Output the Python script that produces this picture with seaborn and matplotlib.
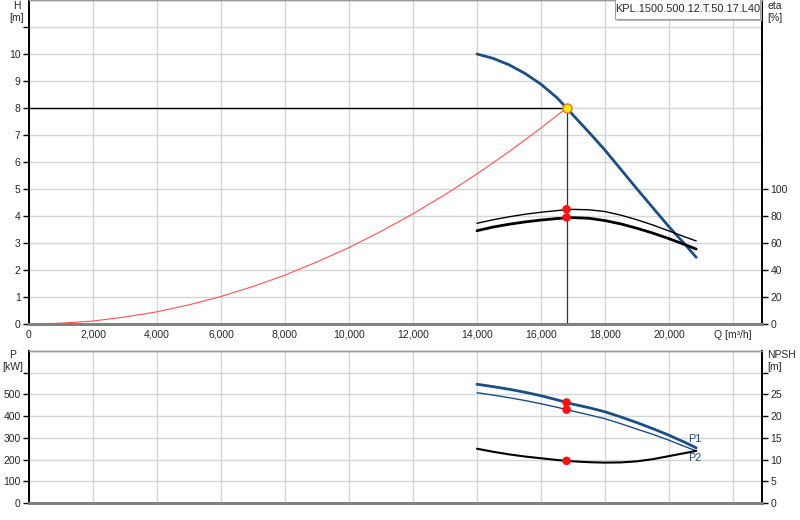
import pandas as pd
import matplotlib
matplotlib.use("Agg")
import matplotlib.pyplot as plt
from matplotlib.patches import Rectangle
import seaborn as sns

# values
q_pump = [14000, 14500, 15000, 15500, 16000, 16500, 16800, 17000, 17500,
          18000, 18500, 19000, 19500, 20000, 20500, 20850]
head = [10.0, 9.84, 9.6, 9.28, 8.88, 8.38, 8.0, 7.74, 7.1,
        6.44, 5.72, 5.0, 4.3, 3.6, 2.95, 2.47]
eta = [69.1, 71.8, 73.9, 75.6, 77.0, 78.1, 78.6, 78.8, 78.3,
       76.6, 74.1, 70.9, 67.3, 63.2, 58.8, 55.5]
eta_thin = [74.6, 77.2, 79.4, 81.3, 82.8, 84.0, 84.7, 84.9, 84.6,
            83.3, 80.6, 77.2, 73.3, 68.9, 64.5, 61.5]
p1 = [547, 536, 524, 510, 494, 475, 463, 455, 439,
      420, 396, 370, 342, 312, 279, 254]
p2 = [508, 497, 485, 472, 457, 441, 430, 423, 406,
      388, 365, 340, 316, 289, 260, 240]
npsh = [12.5, 11.8, 11.2, 10.7, 10.3, 9.9, 9.7, 9.6, 9.4,
        9.3, 9.35, 9.6, 10.1, 10.8, 11.5, 12.0]

q_sys = [0, 1000, 2000, 3000, 4000, 5000, 6000, 7000, 8000, 9000, 10000,
         11000, 12000, 13000, 14000, 15000, 16000, 16800]
h_sys = [0, 0.03, 0.11, 0.26, 0.45, 0.71, 1.02, 1.39, 1.81, 2.3, 2.83,
         3.43, 4.08, 4.79, 5.56, 6.38, 7.26, 8.0]

q_op = 16800
h_op = 8.0
eta_op = [85, 79]
p_op = [463, 430]
npsh_op = 9.7

x_ticks = list(range(0, 22001, 2000))
x_labels = ["0", "2,000", "4,000", "6,000", "8,000", "10,000", "12,000",
            "14,000", "16,000", "18,000", "20,000", "Q [m³/h]"]

model = "KPL.1500.500.12.T.50.17.L40"

blue = "#1a4e86"
grid_c = "#d4d6d8"

sns.set_style("white")
plt.rcParams['font.family'] = ['Liberation Sans', 'DejaVu Sans']
plt.rcParams['font.size'] = 7.5

pump = pd.DataFrame({"Q": q_pump, "H": head, "eta": eta, "eta2": eta_thin,
                     "P1": p1, "P2": p2, "NPSH": npsh})
system = pd.DataFrame({"Q": q_sys, "H": h_sys})

fig = plt.figure(figsize=(8, 5.2), dpi=100)
ax = fig.add_axes([29 / 800, 1 - 324 / 520, 733 / 800, 324 / 520])
ax2 = ax.twinx()
bx = fig.add_axes([29 / 800, 1 - 503 / 520, 733 / 800, 152 / 520])
bx2 = bx.twinx()

xmax = 733 / 32 * 1000

# top panel: head and efficiency
ax.set_xlim(0, xmax)
ax.set_ylim(0, 12)
ax2.set_ylim(0, 240)
ax.axhline(h_op, xmin=0, xmax=q_op / xmax, color="black", lw=1, zorder=3)
ax.plot([q_op, q_op], [0, h_op], color="#333333", lw=0.9, zorder=3)
sns.lineplot(data=system, x="Q", y="H", ax=ax, color="#ff5050", lw=0.8, zorder=4)
sns.lineplot(data=pump, x="Q", y="H", ax=ax, color=blue, lw=2, zorder=5)
sns.scatterplot(x=[q_op], y=[h_op], ax=ax, color="#ffee00", edgecolor="#f07020",
                linewidth=1, s=42, zorder=6)
sns.lineplot(data=pump, x="Q", y="eta", ax=ax2, color="black", lw=2)
sns.lineplot(data=pump, x="Q", y="eta2", ax=ax2, color="black", lw=1)
sns.scatterplot(x=[q_op, q_op], y=eta_op, ax=ax2, color="#ff1010",
                edgecolor="none", s=38, zorder=6)

ax.set_xticks(x_ticks)
ax.set_xticklabels(x_labels)
ax.set_yticks(range(0, 12))
ax.set_yticklabels([str(i) for i in range(0, 11)] + [""])
ax2.set_yticks(range(0, 101, 20))
ax.grid(True, color=grid_c, lw=1)
ax.set_axisbelow(True)
ax2.set_zorder(ax.get_zorder() + 1)
ax2.patch.set_visible(False)

# bottom panel: power and NPSH
bx.set_xlim(0, xmax)
bx.set_ylim(0, 700)
bx2.set_ylim(0, 35)
sns.lineplot(data=pump, x="Q", y="P1", ax=bx, color=blue, lw=2)
sns.lineplot(data=pump, x="Q", y="P2", ax=bx, color=blue, lw=1)
sns.scatterplot(x=[q_op, q_op], y=p_op, ax=bx, color="#ff1010",
                edgecolor="none", s=38, zorder=6)
sns.lineplot(data=pump, x="Q", y="NPSH", ax=bx2, color="black", lw=1.5)
sns.scatterplot(x=[q_op], y=[npsh_op], ax=bx2, color="#ff1010",
                edgecolor="none", s=38, zorder=6)
bx.text(q_pump[-1] - 250, p1[-1] + 40, "P1", color=blue, fontsize=7.8,
        ha="left", va="center")
bx.text(q_pump[-1] - 250, p2[-1] - 35, "P2", color=blue, fontsize=7.8,
        ha="left", va="center")

bx.set_xticks(x_ticks)
bx.set_xticklabels([])
bx.set_yticks(range(0, 601, 100))
bx.set_yticklabels([str(i) for i in range(0, 501, 100)] + [""])
bx2.set_yticks(range(0, 31, 5))
bx2.set_yticklabels([str(i) for i in range(0, 26, 5)] + [""])
bx.grid(True, color=grid_c, lw=1)
bx.set_axisbelow(True)
bx2.set_zorder(bx.get_zorder() + 1)
bx2.patch.set_visible(False)

for a in (ax, ax2, bx, bx2):
    a.set_xlabel("")
    a.set_ylabel("")
    a.tick_params(axis="x", length=0, pad=4)
    a.tick_params(axis="y", length=4, width=1, color="black", pad=2)
    for s in ("left", "right"):
        a.spines[s].set_color("black")
        a.spines[s].set_linewidth(1.3)
    a.spines["bottom"].set_color("#808080")
    a.spines["bottom"].set_linewidth(2)
    a.spines["top"].set_color("#999999")
    a.spines["top"].set_linewidth(1)

# axis captions
fig.text(17 / 800, 1 - 12 / 520, "H\n[m]", ha="center", va="center", fontsize=7.5,
         linespacing=1.15)
fig.text(767 / 800, 1 - 12 / 520, "eta\n[%]", ha="left", va="center", fontsize=7.5,
         linespacing=1.15)
fig.text(13 / 800, 1 - 361 / 520, "P\n[kW]", ha="center", va="center", fontsize=7.5,
         linespacing=1.15)
fig.text(767 / 800, 1 - 361 / 520, "NPSH\n[m]", ha="left", va="center", fontsize=7.5,
         linespacing=1.15)

# model box with a small drop shadow
fig.patches.append(Rectangle((617 / 800, 1 - 21 / 520), 145 / 800, 20 / 520,
                             transform=fig.transFigure, facecolor="#b8b8b8",
                             edgecolor="none", zorder=8))
fig.patches.append(Rectangle((615 / 800, 1 - 19 / 520), 145 / 800, 20 / 520,
                             transform=fig.transFigure, facecolor="white",
                             edgecolor="#a0a0a0", lw=0.8, zorder=9))
fig.text(688 / 800, 1 - 9 / 520, model, ha="center", va="center", fontsize=7.9,
         zorder=10)

fig.savefig("out.png", dpi=100)
